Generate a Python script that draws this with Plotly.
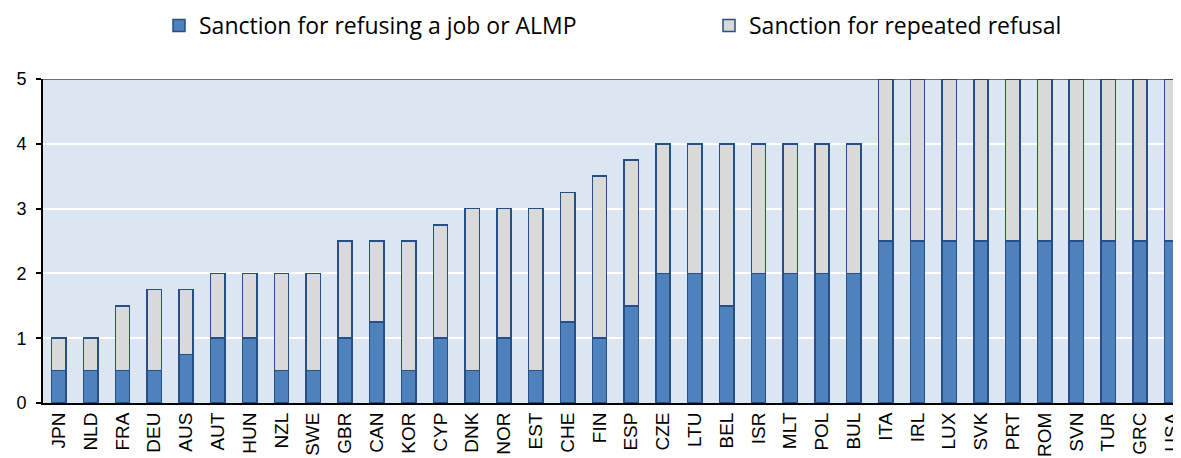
import plotly.graph_objects as go

countries = ["JPN", "NLD", "FRA", "DEU", "AUS", "AUT", "HUN", "NZL", "SWE", "GBR",
             "CAN", "KOR", "CYP", "DNK", "NOR", "EST", "CHE", "FIN", "ESP", "CZE",
             "LTU", "BEL", "ISR", "MLT", "POL", "BUL", "ITA", "IRL", "LUX", "SVK",
             "PRT", "ROM", "SVN", "TUR", "GRC", "USA"]
refusing = [0.5, 0.5, 0.5, 0.5, 0.75, 1, 1, 0.5, 0.5, 1,
            1.25, 0.5, 1, 0.5, 1, 0.5, 1.25, 1, 1.5, 2,
            2, 1.5, 2, 2, 2, 2, 2.5, 2.5, 2.5, 2.5,
            2.5, 2.5, 2.5, 2.5, 2.5, 2.5]
repeated = [0.5, 0.5, 1, 1.25, 1, 1, 1, 1.5, 1.5, 1.5,
            1.25, 2, 1.75, 2.5, 2, 2.5, 2, 2.5, 2.25, 2,
            2, 2.5, 2, 2, 2, 2, 2.5, 2.5, 2.5, 2.5,
            2.5, 2.5, 2.5, 2.5, 2.5, 2.5]

FONT = "Liberation Sans"
LEGFONT = "Open Sans"
edge = "#264F88"

W, H = 1173, 450
L, T, B = 35, 71, 55
PW, PH = W - L, H - T - B

fig = go.Figure()
fig.add_trace(go.Bar(x=countries, y=refusing, name="Sanction for refusing a job or ALMP",
                     marker=dict(color="#4F81BD", line=dict(color=edge, width=1.5)), width=0.45))
fig.add_trace(go.Bar(x=countries, y=repeated, name="Sanction for repeated refusal",
                     marker=dict(color="#D9D9D9", line=dict(color=edge, width=1.5)), width=0.45))

fig.update_layout(
    barmode="stack",
    width=W, height=H,
    margin=dict(l=L, r=0, t=T, b=B, autoexpand=False),
    paper_bgcolor="white",
    plot_bgcolor="#DCE6F2",
    font=dict(family=FONT, color="black"),
    legend=dict(orientation="h",
                x=(151 - L) / PW, y=1 + (T + 4) / PH, xanchor="left", yanchor="top",
                font=dict(size=23, family=LEGFONT), entrywidth=505,
                traceorder="normal", itemwidth=30, bgcolor="rgba(0,0,0,0)"),
    xaxis=dict(range=[-0.5, 35.29], tickangle=-90, tickfont=dict(size=19),
               showline=True, linecolor="black", linewidth=2, ticks="",
               automargin=False, showgrid=False),
    yaxis=dict(range=[0, 5], tickvals=[0, 1, 2, 3, 4, 5], tickfont=dict(size=18),
               showline=True, linecolor="black", linewidth=2,
               ticks="outside", ticklen=5, tickcolor="black", tickwidth=1.5,
               ticklabelstandoff=6,
               gridcolor="white", gridwidth=2, automargin=False, zeroline=False),
    bargap=0.55,
)
fig.add_shape(type="line", xref="paper", yref="y", x0=0, x1=1, y0=5, y1=5,
              line=dict(color="#444444", width=1.5), layer="above")

fig.write_html("out.html")
